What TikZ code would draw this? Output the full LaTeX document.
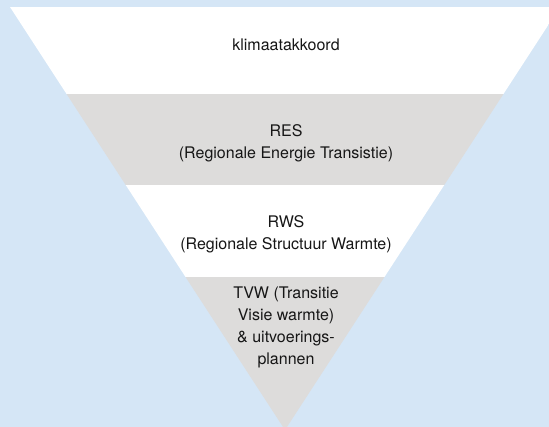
\documentclass[tikz,border=0pt]{standalone}
\usepackage{fontspec}
\setmainfont{TeX Gyre Heros}
\usepackage{xcolor}
\usepackage{tikz}
\usetikzlibrary{positioning}

\definecolor{skyblue}{HTML}{D5E6F6}
\definecolor{bandgrey}{HTML}{DDDCDB}
\definecolor{inktext}{HTML}{161616}

\begin{document}
\begin{tikzpicture}[x=1pt, y=-1pt, font=\fontsize{16}{22}\selectfont, text=inktext]
            % background
            \fill[skyblue] (0,0) rectangle (549,427);
            \useasboundingbox (0,0) rectangle (549,427);

            % funnel with its bands
            \begin{scope}
                \clip (10,7) -- (560,7) -- (285,430) -- cycle;
                \fill[white] (0,7) rectangle (560,94);
                \fill[bandgrey] (0,94) rectangle (560,185);
                \fill[white] (0,185) rectangle (560,277);
                \fill[bandgrey] (0,277) rectangle (560,440);
            \end{scope}

            \node[align=center] (akkoord) at (286,45) {klimaatakkoord};
            \node[align=center] (res) at (286,143) {RES\\(Regionale Energie Transistie)};
            \node[align=center] (rws) at (286,234) {RWS\\(Regionale Structuur Warmte)};
            \node[align=center] (tvw) at (286,327) {TVW (Transitie\\Visie warmte)\\\& uitvoerings-\\plannen};
        \end{tikzpicture}
\end{document}
